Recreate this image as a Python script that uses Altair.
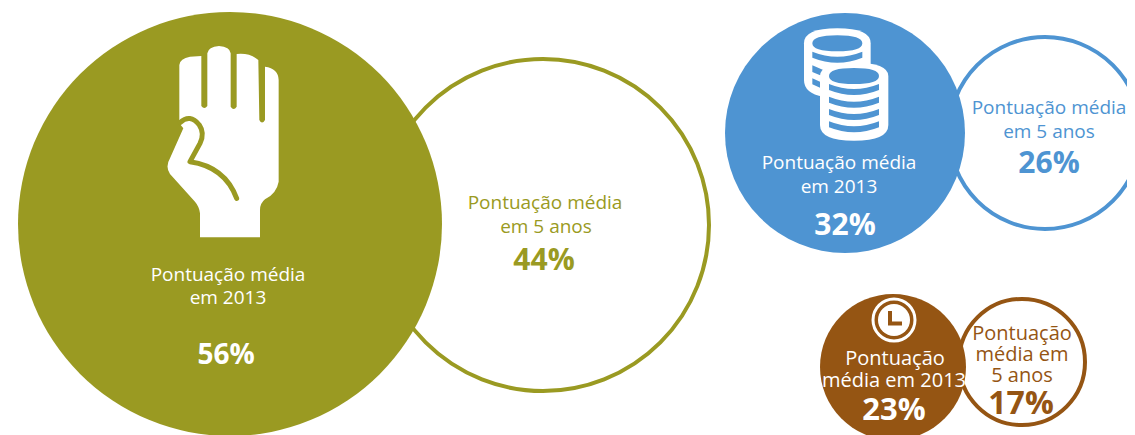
import altair as alt
import pandas as pd

OLIVE = "#9a9a22"
BLUE = "#4e94d2"
BROWN = "#955513"
WHITE = "#ffffff"
FONT = "Open Sans"

ring_x = [543, 1045, 1022]
ring_y = [225, 133, 362]
ring_d = [332, 192, 126]
ring_c = [OLIVE, BLUE, BROWN]
disc_x = [230, 845, 893]
disc_y = [224, 133, 367]
disc_d = [424, 240, 146]
disc_c = [OLIVE, BLUE, BROWN]

lab = ["Pontuação média", "em 2013", "56%",
       "Pontuação média", "em 5 anos", "44%",
       "Pontuação média", "em 2013", "32%",
       "Pontuação média", "em 5 anos", "26%",
       "Pontuação", "média em 2013", "23%",
       "Pontuação", "média em", "5 anos", "17%"]
lab_x = [228, 228, 226, 545, 546, 544, 839, 839, 845, 1049, 1049, 1049,
         895, 894, 894, 1022, 1022, 1022, 1021]
lab_y = [275, 298, 356, 203, 227, 261, 163, 187, 226, 108, 132, 164,
         359, 381, 411, 334, 355, 376, 404]
lab_s = [19, 19, 28, 19, 19, 30, 19, 19, 30, 19, 19, 30, 20, 20, 31, 20, 20, 20, 32]
lab_w = ["normal", "normal", "bold"] * 5 + ["normal"] * 3 + ["bold"]
lab_c = [WHITE] * 3 + [OLIVE] * 3 + [WHITE] * 3 + [BLUE] * 3 + [WHITE] * 3 + [BROWN] * 4

# icons, drawn in 3x zoomed coordinates
HAND = ("M180,622 L180,550 Q178,530 165,515 L90,432 Q75,410 90,385 L130,295 L118,280 L118,105 "
        "Q120,85 150,80 L184,78 L184,228 Q193,240 202,228 L202,70 Q205,50 237,48 Q270,50 272,70 "
        "L272,230 Q281,244 290,230 L290,72 Q330,68 355,90 L358,270 Q366,285 375,270 L375,110 "
        "Q415,115 416,150 L416,455 Q410,490 375,508 Q360,520 360,540 L360,622 Z")
HAND_LINE = "M120,278 Q150,250 178,285 Q195,310 180,340 L150,395 Q255,410 290,505"


def band(cx, y, x0, x1):
    return f"M{x0},{y} Q{cx},{y+30} {x1},{y} L{x1},{y+18} Q{cx},{y+48} {x0},{y+18} Z "


def ell(cx, cy, rx, ry):
    return (f"M{cx-rx},{cy} Q{cx-rx},{cy-ry} {cx},{cy-ry} Q{cx+rx},{cy-ry} {cx+rx},{cy} "
            f"Q{cx+rx},{cy+ry} {cx},{cy+ry} Q{cx-rx},{cy+ry} {cx-rx},{cy} Z ")


COIN_BACK = "M72,130 Q72,85 172,85 Q272,85 272,130 L272,220 L130,290 Q72,280 72,240 Z"
COIN_BACK_BANDS = (ell(172, 130, 75, 24) + band(172, 155, 97, 247)
                   + "M97,196 L135,212 L135,232 L97,216 Z M97,235 L130,250 L130,268 L97,253 Z")
COIN_FRONT = "M120,228 Q120,188 222,188 Q325,188 325,228 L325,375 Q325,422 222,422 Q120,422 120,375 Z"
COIN_FRONT_BANDS = (ell(222, 228, 75, 24) + band(222, 252, 147, 297) + band(222, 290, 147, 297)
                    + band(222, 327, 147, 297) + band(222, 364, 147, 297))

shapes = [
    (HAND, WHITE, 140, 30),
    (COIN_BACK, WHITE, 780, 0),
    (COIN_BACK_BANDS, BLUE, 780, 0),
    (COIN_FRONT, WHITE, 780, 0),
    (COIN_FRONT_BANDS, BLUE, 780, 0),
]

X = alt.X("x:Q", scale=alt.Scale(domain=[8, 1127], nice=False, zero=False), axis=None)
Y = alt.Y("y:Q", scale=alt.Scale(domain=[435, 8], nice=False, zero=False), axis=None)
ring_df = pd.DataFrame({"x": ring_x, "y": ring_y, "s": [d * d for d in ring_d], "c": ring_c})
disc_df = pd.DataFrame({"x": disc_x, "y": disc_y, "s": [d * d for d in disc_d], "c": disc_c})
lab_df = pd.DataFrame({"x": lab_x, "y": lab_y, "t": lab, "s": lab_s, "w": lab_w, "c": lab_c})

rings = alt.Chart(ring_df).mark_point(filled=False, strokeWidth=4, opacity=1, clip=False).encode(
    x=X, y=Y, size=alt.Size("s:Q", scale=None), color=alt.Color("c:N", scale=None))
discs = alt.Chart(disc_df).mark_point(filled=True, opacity=1, clip=False).encode(
    x=X, y=Y, size=alt.Size("s:Q", scale=None), color=alt.Color("c:N", scale=None))

layers = [rings, discs]
for path, col, ox, oy in shapes:
    layers.append(alt.Chart(pd.DataFrame({"x": [ox], "y": [oy]})).mark_point(
        shape=path, filled=True, fill=col, opacity=1, size=0.4444).encode(x=X, y=Y))
layers.append(alt.Chart(pd.DataFrame({"x": [140], "y": [30]})).mark_point(
    shape=HAND_LINE, filled=False, stroke=OLIVE, strokeWidth=5, strokeCap="round", strokeJoin="round",
    opacity=1, size=0.4444).encode(x=X, y=Y))

# clock
clock_df = pd.DataFrame({"x": [894], "y": [320]})
layers.append(alt.Chart(clock_df).mark_point(filled=False, stroke=WHITE, strokeWidth=3, opacity=1, size=42 * 42).encode(x=X, y=Y))
layers.append(alt.Chart(clock_df).mark_point(filled=True, fill=WHITE, opacity=1, size=32 * 32).encode(x=X, y=Y))
layers.append(alt.Chart(clock_df).mark_point(
    shape="M-4,-9 L-4,3.5 L8,3.5", filled=False, stroke=BROWN, strokeWidth=4, opacity=1, size=4).encode(x=X, y=Y))

reg = alt.Chart(lab_df[lab_df.w == "normal"]).mark_text(font=FONT, align="center", baseline="middle").encode(
    x=X, y=Y, text="t:N", size=alt.Size("s:Q", scale=None), color=alt.Color("c:N", scale=None))
bold = alt.Chart(lab_df[lab_df.w == "bold"]).mark_text(font=FONT, fontWeight="bold", align="center", baseline="middle").encode(
    x=X, y=Y, text="t:N", size=alt.Size("s:Q", scale=None), color=alt.Color("c:N", scale=None))
layers += [reg, bold]

chart = alt.layer(*layers).properties(
    width=1119, height=427, padding=0, background="white",
    autosize=alt.AutoSizeParams(type="none"),
).configure_view(stroke=None, clip=False)

chart.save("out.html", embed_options={"renderer": "svg", "actions": False})
